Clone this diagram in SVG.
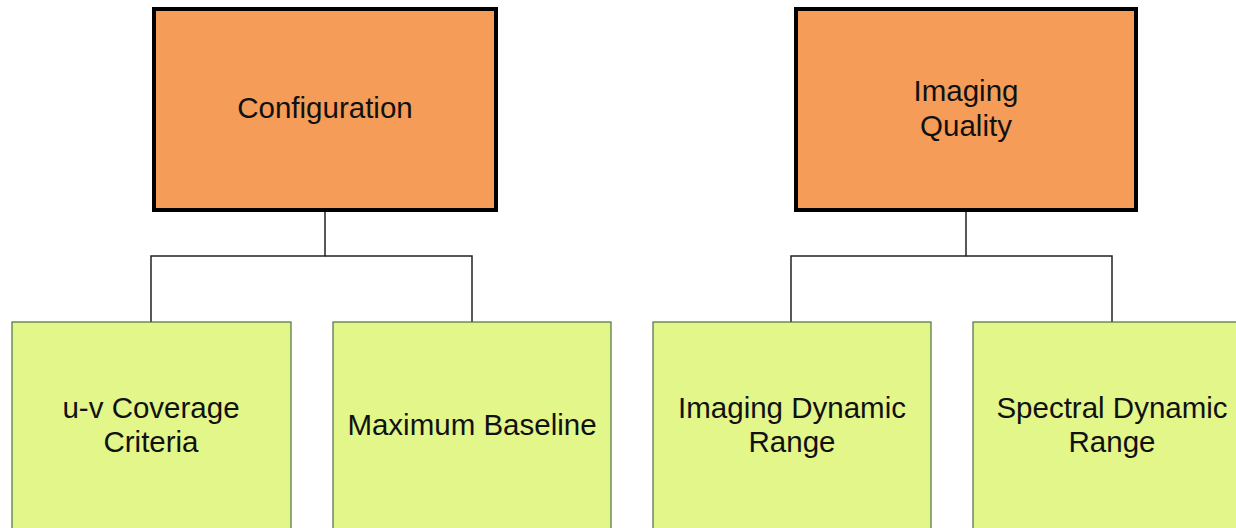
<svg xmlns="http://www.w3.org/2000/svg" width="1236" height="528" viewBox="0 0 1236 528">
<style>
.top{fill:#F49C58;stroke:#000;stroke-width:4}
.leaf{fill:#E2F68A;stroke:#4E6E4E;stroke-width:1.2}
.lbl{font-family:"Liberation Sans",Arial,sans-serif;font-size:29.5px;fill:#111;text-anchor:middle}
.con{fill:none;stroke:#222;stroke-width:1.5}
</style>
<rect width="1236" height="528" fill="#fff"/>
<g id="connectors">
<polyline class="con" points="325,209 325,256 151,256 151,322"/>
<polyline class="con" points="325,256 472,256 472,322"/>
<polyline class="con" points="966,209 966,256 791,256 791,322"/>
<polyline class="con" points="966,256 1112,256 1112,322"/>
</g>
<g id="configuration">
<rect class="top" x="154" y="9" width="342" height="201"/>
<text class="lbl" x="325" y="118">Configuration</text>
</g>
<g id="imaging-quality">
<rect class="top" x="796" y="9" width="340" height="201"/>
<text class="lbl" x="966" y="101">Imaging</text>
<text class="lbl" x="966" y="136">Quality</text>
</g>
<g id="uv-coverage">
<rect class="leaf" x="12" y="322" width="279" height="220"/>
<text class="lbl" x="151" y="418">u-v Coverage</text>
<text class="lbl" x="151" y="452">Criteria</text>
</g>
<g id="max-baseline">
<rect class="leaf" x="333" y="322" width="278" height="220"/>
<text class="lbl" x="472" y="435">Maximum Baseline</text>
</g>
<g id="imaging-dr">
<rect class="leaf" x="653" y="322" width="278" height="220"/>
<text class="lbl" x="792" y="418">Imaging Dynamic</text>
<text class="lbl" x="792" y="452">Range</text>
</g>
<g id="spectral-dr">
<rect class="leaf" x="973" y="322" width="278" height="220"/>
<text class="lbl" x="1112" y="418">Spectral Dynamic</text>
<text class="lbl" x="1112" y="452">Range</text>
</g>
</svg>
